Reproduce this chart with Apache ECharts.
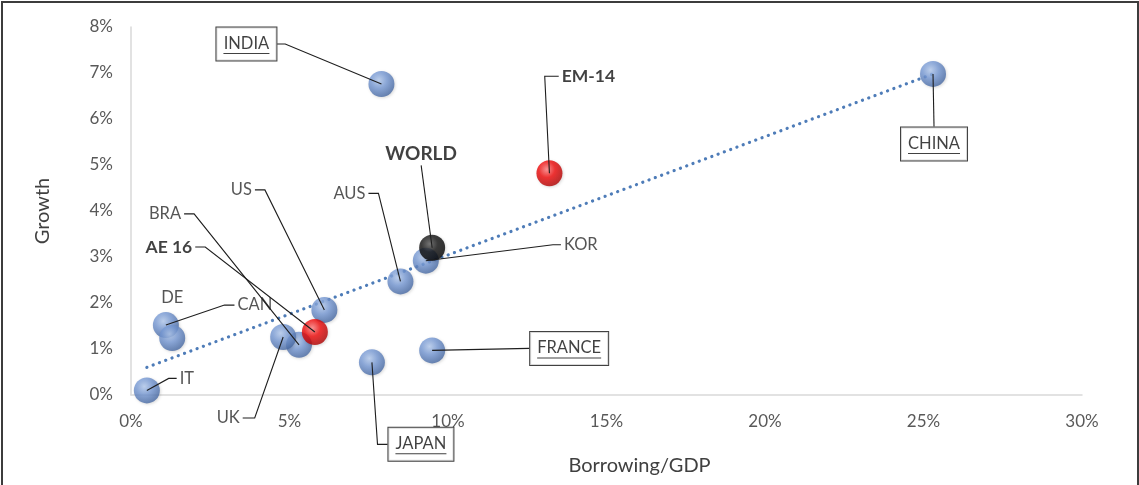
<!DOCTYPE html>
<html><head><meta charset="utf-8">
<script src="https://cdn.jsdelivr.net/npm/echarts@6/dist/echarts.min.js"></script>
<style>
html,body{margin:0;padding:0;background:#fff;}
#wrap{position:relative;width:1139px;height:485px;overflow:hidden;}
#chart{position:absolute;left:0;top:0;width:1139px;height:485px;}
#frame{position:absolute;left:1px;top:1px;width:1134px;height:490px;border:2px solid #3c3c3c;pointer-events:none;}
</style></head><body>
<div id="wrap"><div id="chart"></div><div id="frame"></div></div>
<script>
// ---- data (percent) ----
const names        = ['INDIA','CHINA','EM-14','WORLD','KOR','AUS','US','AE 16','BRA','UK','CAN','DE','IT','JAPAN','FRANCE'];
const borrowingGdp = [7.9, 25.3, 13.2, 9.5, 9.3, 8.5, 6.1, 5.8, 5.3, 4.8, 1.1, 1.3, 0.5, 7.6, 9.5];
const growth       = [6.76, 6.98, 4.82, 3.2, 2.92, 2.47, 1.85, 1.37, 1.09, 1.26, 1.52, 1.24, 0.1, 0.71, 0.97];
const groups       = ['country','country','aggregate','world','country','country','country','aggregate','country','country','country','country','country','country','country'];
const boxedNames   = ['INDIA','CHINA','JAPAN','FRANCE'];
const boldNames    = ['WORLD','EM-14','AE 16'];
const trendBorrowing = [0.5, 25.3];
const trendGrowth    = [0.6, 6.98];

// ---- label placement (pixel offsets of label centre from the point, leader side) ----
const labelPlacement = {
  'INDIA':  {dx:-135, dy:-40, side:'r', len:8},
  'CHINA':  {dx:1,    dy:70,  side:'t', len:0},
  'EM-14':  {dx:39,   dy:-97, side:'l', len:14},
  'WORLD':  {dx:-11,  dy:-94, side:'b', len:0},
  'KOR':    {dx:155,  dy:-16, side:'l', len:8},
  'AUS':    {dx:-51,  dy:-88, side:'r', len:10},
  'US':     {dx:-83,  dy:-120,side:'r', len:10},
  'AE 16':  {dx:-146, dy:-85, side:'r', len:10},
  'BRA':    {dx:-134, dy:-131,side:'r', len:10},
  'UK':     {dx:-55,  dy:81,  side:'r', len:12},
  'CAN':    {dx:89,   dy:-20, side:'l', len:10},
  'DE':     {dx:0,    dy:-40, side:null},
  'IT':     {dx:40,   dy:-12, side:'l', len:8},
  'JAPAN':  {dx:49,   dy:82,  side:'l', len:10},
  'FRANCE': {dx:137,  dy:-2,  side:'l', len:0}
};
const labelSize = {normal:16.5, bold:17.5, world:19, boxed:16.5};
const boxPad = [7, 7, 6, 7];

const FONT = 'Lato, "Open Sans", sans-serif';
const measureCtx = document.createElement('canvas').getContext('2d');
function textWidth(t, size, weight){ measureCtx.font = (weight||'normal')+' '+size+'px Lato'; return measureCtx.measureText(t).width; }

function labelStyleOf(nm){
  const boxed = boxedNames.includes(nm), bold = boldNames.includes(nm);
  const size = nm === 'WORLD' ? labelSize.world : (boxed ? labelSize.boxed : (bold ? labelSize.bold : labelSize.normal));
  const weight = bold ? 'bold' : 'normal';
  const tw = textWidth(nm, size, weight);
  let w = tw, h = size * 0.9;
  if (boxed) { w = tw + boxPad[1] + boxPad[3] + 2; h = 18 + 2 + boxPad[0] + boxPad[2] + 2; }
  return {boxed, bold, size, weight, tw, w, h};
}

const ballStyles = {
  country:   {type:'radial', x:0.4, y:0.35, r:0.7, colorStops:[{offset:0,color:'#b4cbef'},{offset:0.45,color:'#7598d4'},{offset:1,color:'#42649e'}]},
  aggregate: {type:'radial', x:0.4, y:0.35, r:0.7, colorStops:[{offset:0,color:'#ff8080'},{offset:0.45,color:'#f00808'},{offset:1,color:'#a80000'}]},
  world:     {type:'radial', x:0.4, y:0.35, r:0.7, colorStops:[{offset:0,color:'#5a5a5a'},{offset:0.45,color:'#111'},{offset:1,color:'#000'}]}
};

function labelFor(nm){
  const s = labelStyleOf(nm);
  if (s.boxed) {
    return {
      show:true, position:'inside',
      formatter: '{t|' + nm + '}\n{u|}',
      backgroundColor:'#fff', borderColor:'#111', borderWidth:1, padding:boxPad,
      rich:{
        t:{fontSize:s.size, fontFamily:FONT, color:'#111', lineHeight:18},
        u:{width:Math.round(s.tw), height:1, lineHeight:2, backgroundColor:'#111'}
      }
    };
  }
  return {show:true, position:'inside', formatter: nm, fontSize:s.size, fontFamily:FONT,
          fontWeight:s.weight, color: s.bold ? '#111' : '#2b2b2b'};
}

function makeSeries(group){
  const items = [];
  names.forEach((nm,i)=>{
    if (groups[i] !== group) return;
    items.push({name:nm, value:[borrowingGdp[i], growth[i]], label:labelFor(nm)});
  });
  return {
    type:'scatter', name:group, symbol:'circle', symbolSize:26, clip:false,
    z: group==='country'?3:(group==='aggregate'?4:5),
    itemStyle:{color:ballStyles[group], shadowColor:'rgba(0,0,0,0.18)', shadowBlur:3, shadowOffsetX:1, shadowOffsetY:1},
    data:items,
    labelLayout: function(p){
      const cfg = labelPlacement[items[p.dataIndex].name];
      return {dx:cfg.dx, dy:cfg.dy};
    }
  };
}

// leader lines: from each point (through the axes' scale) to its label
const leaderSeries = {
  type:'custom', z:6, silent:true, clip:false,
  data: names.map((nm,i)=>[borrowingGdp[i], growth[i]]),
  renderItem: function(params, api){
    const nm = names[params.dataIndex];
    const cfg = labelPlacement[nm];
    if (!cfg.side) return null;
    const p = api.coord([api.value(0), api.value(1)]);
    const s = labelStyleOf(nm);
    const lx = p[0] + cfg.dx, ly = p[1] + cfg.dy;
    let ax, ay, ex, ey;
    const g = s.boxed ? 0 : 3;
    if (cfg.side==='l'){ ax=lx - s.w/2 - g; ay=ly; ex=ax-cfg.len; ey=ay; }
    else if (cfg.side==='r'){ ax=lx + s.w/2 + g; ay=ly; ex=ax+cfg.len; ey=ay; }
    else if (cfg.side==='t'){ ax=lx; ay=ly - s.h/2 - g; ex=ax; ey=ay-cfg.len; }
    else { ax=lx; ay=ly + s.h/2 + g; ex=ax; ey=ay+cfg.len; }
    return {type:'polyline', shape:{points:[[ax,ay],[ex,ey],[p[0],p[1]]]},
            style:{stroke:'#1e1e1e', lineWidth:1.1, fill:null}};
  }
};

const chart = echarts.init(document.getElementById('chart'), null, {renderer:'canvas'});
chart.setOption({
  animation:false,
  backgroundColor:'#fff',
  grid:{left:131, right:57, top:27, bottom:90, containLabel:false, outerBoundsMode:'none'},
  xAxis:{
    type:'value', min:0, max:30, interval:5,
    name:'Borrowing/GDP', nameLocation:'middle', nameGap:61,
    nameTextStyle:{fontSize:20, fontFamily:FONT, color:'#404040', padding:[0,0,0,66]},
    axisLine:{show:true, lineStyle:{color:'#d9d9d9', width:1.5}},
    axisTick:{show:false}, splitLine:{show:false},
    axisLabel:{formatter:'{value}%', fontSize:17, fontFamily:FONT, color:'#595959', margin:18}
  },
  yAxis:{
    type:'value', min:0, max:8, interval:1,
    name:'Growth', nameLocation:'middle', nameGap:78, nameRotate:90,
    nameTextStyle:{fontSize:20, fontFamily:FONT, color:'#404040'},
    axisLine:{show:true, lineStyle:{color:'#d9d9d9', width:1.5}},
    axisTick:{show:false}, splitLine:{show:false},
    axisLabel:{formatter:'{value}%', fontSize:17, fontFamily:FONT, color:'#595959', margin:18}
  },
  series:[
    {type:'line', name:'trend', z:2, symbol:'none', silent:true,
     data: trendBorrowing.map((x,i)=>[x, trendGrowth[i]]),
     lineStyle:{color:'#4e7cb8', width:3.2, type:[0.1,6.6], cap:'round'}},
    makeSeries('country'),
    makeSeries('aggregate'),
    makeSeries('world'),
    leaderSeries
  ]
});
</script></body></html>
